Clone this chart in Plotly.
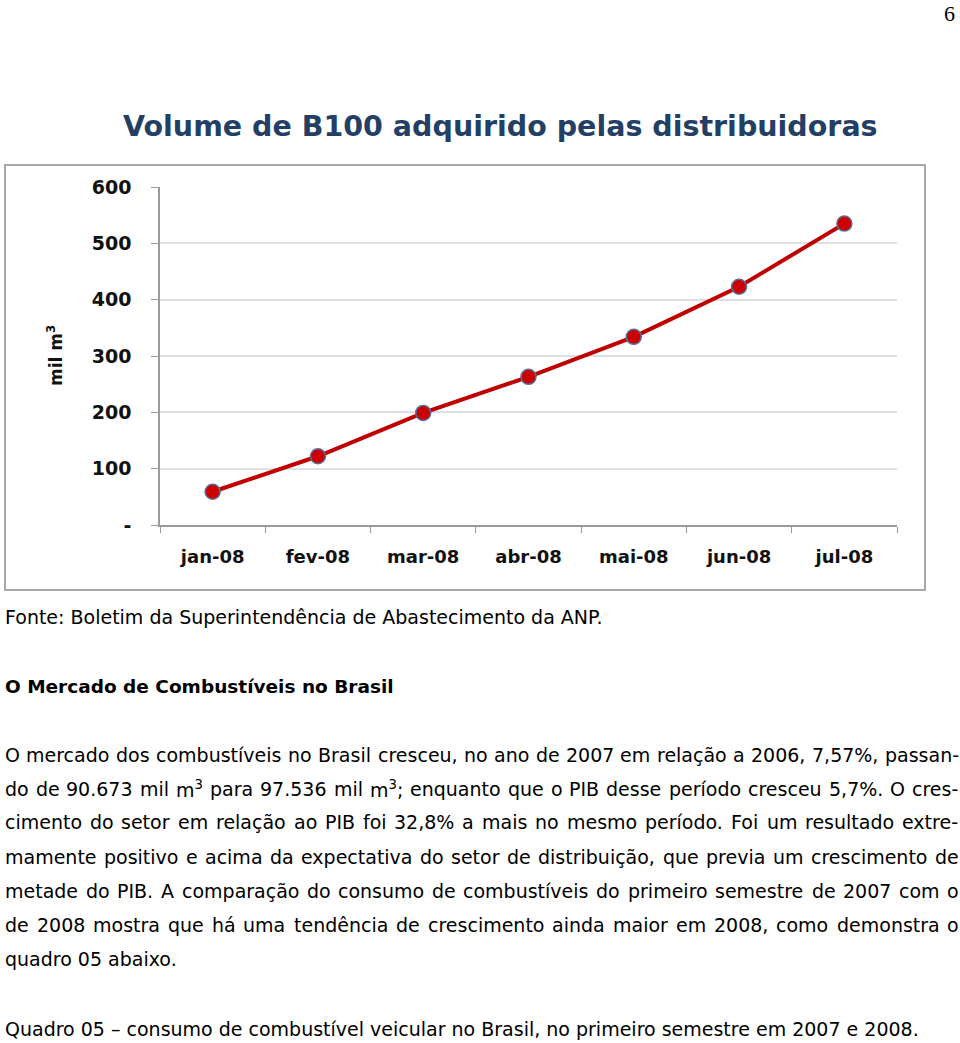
import re
import plotly.graph_objects as go

months = ["jan-08", "fev-08", "mar-08", "abr-08", "mai-08", "jun-08", "jul-08"]
volume = [59, 122, 199, 263, 334, 423, 535]
y_ticks = [0, 100, 200, 300, 400, 500, 600]
y_ticktext = ["-", "100", "200", "300", "400", "500", "600"]

W, H = 960, 1043

fig = go.Figure()
fig.add_trace(go.Scatter(
    x=months, y=volume, mode="lines+markers",
    line=dict(color="#C00000", width=4),
    marker=dict(size=15, color="#CC0000", line=dict(color="#5A6E9A", width=1.5)),
    hoverinfo="x+y", showlegend=False,
))

def py(p):
    return 1 - p / H

fig.update_layout(
    width=W, height=H, autosize=False,
    margin=dict(l=0, r=0, t=0, b=0, autoexpand=False),
    paper_bgcolor="white", plot_bgcolor="white",
    xaxis=dict(
        domain=[160 / W, 897 / W],
        type="category", automargin=False,
        range=[-0.5, len(months) - 0.5],
        showline=True, linecolor="#9a9a9a", linewidth=1.5,
        ticks="outside", tickson="boundaries", ticklen=6, tickcolor="#9a9a9a",
        showgrid=False,
        tickfont=dict(family="DejaVu Sans", size=18, color="#111111", weight="bold"),
        ticklabelstandoff=15,
        fixedrange=True,
    ),
    yaxis=dict(
        domain=[py(525), py(187)],
        range=[0, 600], automargin=False,
        tickvals=y_ticks, ticktext=y_ticktext,
        showline=True, linecolor="#9a9a9a", linewidth=1.5,
        ticks="outside", ticklen=7, tickcolor="#9a9a9a",
        showgrid=True, gridcolor="#dce0e5", gridwidth=1.5,
        zeroline=False,
        tickfont=dict(family="DejaVu Sans", size=19, color="#111111", weight="bold"),
        ticklabelstandoff=16,
        fixedrange=True,
    ),
)

# chart image border
fig.add_shape(type="rect", xref="paper", yref="paper",
              x0=5 / W, x1=925 / W, y0=py(590), y1=py(165),
              line=dict(color="#a8a8a8", width=2))

anns = []
anns.append(dict(x=957 / W, y=py(14), xanchor="right", yanchor="middle",
                 text="6", font=dict(family="Liberation Serif", size=22, color="#000")))
anns.append(dict(x=500 / W, y=py(126), xanchor="center", yanchor="middle",
                 text="<b>Volume de B100 adquirido pelas distribuidoras</b>",
                 font=dict(family="DejaVu Sans", size=28.5, color="#243F66")))
anns.append(dict(x=55 / W, y=py(356), xanchor="center", yanchor="middle", textangle=-90,
                 text="<b>mil m<sup>3</sup></b>",
                 font=dict(family="DejaVu Sans", size=17, color="#111111")))

BODY = 19
body_font = dict(family="DejaVu Sans", size=BODY, color="#000")

# approximate DejaVu Sans advance widths (em units)
CW = {
    " ": 0.318, "a": 0.613, "b": 0.635, "c": 0.550, "d": 0.635, "e": 0.615, "f": 0.352,
    "g": 0.635, "h": 0.634, "i": 0.278, "j": 0.278, "k": 0.579, "l": 0.278, "m": 0.974,
    "n": 0.634, "o": 0.612, "p": 0.635, "q": 0.635, "r": 0.411, "s": 0.521, "t": 0.392,
    "u": 0.634, "v": 0.592, "w": 0.818, "x": 0.592, "y": 0.592, "z": 0.525,
    "A": 0.684, "B": 0.686, "C": 0.698, "D": 0.770, "E": 0.632, "F": 0.575, "G": 0.775,
    "H": 0.752, "I": 0.295, "M": 0.863, "N": 0.748, "O": 0.787, "P": 0.603, "Q": 0.787,
    "R": 0.695, "S": 0.635, "T": 0.611, ",": 0.318, ".": 0.318, "-": 0.361, "%": 0.950,
    ";": 0.337, ":": 0.337, "–": 0.500,
}
ACC_SRC = "áàâãéêíóôõúçÁÉÍÓÚÇ"
ACC_DST = "aaaaeeiooouc" + "AEIOUC"
ACC = str.maketrans(ACC_SRC, ACC_DST)

def text_w(word, size):
    w = 0.0
    for tok in re.split(r"(<sup>.*?</sup>)", word):
        if tok.startswith("<sup>"):
            inner = tok[5:-6]
            w += sum(CW.get(c.translate(ACC), 0.636) for c in inner) * 0.7
        else:
            w += sum(CW.get(c.translate(ACC), 0.636) for c in tok)
    return w * size

LEFT, RIGHT = 3, 957

def add_line(yy, text, justify=False, font=body_font):
    if not justify:
        anns.append(dict(x=LEFT / W, y=py(yy), xanchor="left", yanchor="middle",
                         text=text, font=font))
        return
    words = text.split(" ")
    widths = [text_w(w_, font["size"]) for w_ in words]
    gap = (RIGHT - LEFT - sum(widths)) / (len(words) - 1)
    x = LEFT
    for w_, ww in zip(words, widths):
        anns.append(dict(x=x / W, y=py(yy), xanchor="left", yanchor="middle",
                         text=w_, font=font))
        x += ww + gap

add_line(617, "Fonte: Boletim da Superintendência de Abastecimento da ANP.")
add_line(686, "<b>O Mercado de Combustíveis no Brasil</b>",
         font=dict(family="DejaVu Sans", size=18.5, color="#000"))
para = [
    (755, "O mercado dos combustíveis no Brasil cresceu, no ano de 2007 em relação a 2006, 7,57%, passan-"),
    (789, "do de 90.673 mil m<sup>3</sup> para 97.536 mil m<sup>3</sup>; enquanto que o PIB desse período cresceu 5,7%. O cres-"),
    (822, "cimento do setor em relação ao PIB foi 32,8% a mais no mesmo período. Foi um resultado extre-"),
    (857, "mamente positivo e acima da expectativa do setor de distribuição, que previa um crescimento de"),
    (891, "metade do PIB. A comparação do consumo de combustíveis do primeiro semestre de 2007 com o"),
    (925, "de 2008 mostra que há uma tendência de crescimento ainda maior em 2008, como demonstra o"),
]
for yy, t in para:
    add_line(yy, t, justify=True)
add_line(959, "quadro 05 abaixo.")
add_line(1029, "Quadro 05 – consumo de combustível veicular no Brasil, no primeiro semestre em 2007 e 2008.")

for a in anns:
    a.update(xref="paper", yref="paper", showarrow=False)
fig.update_layout(annotations=anns)

fig.write_html("out.html",
               config={"displayModeBar": False},
               post_script="document.body.style.margin='0';document.body.style.overflow='hidden';")
